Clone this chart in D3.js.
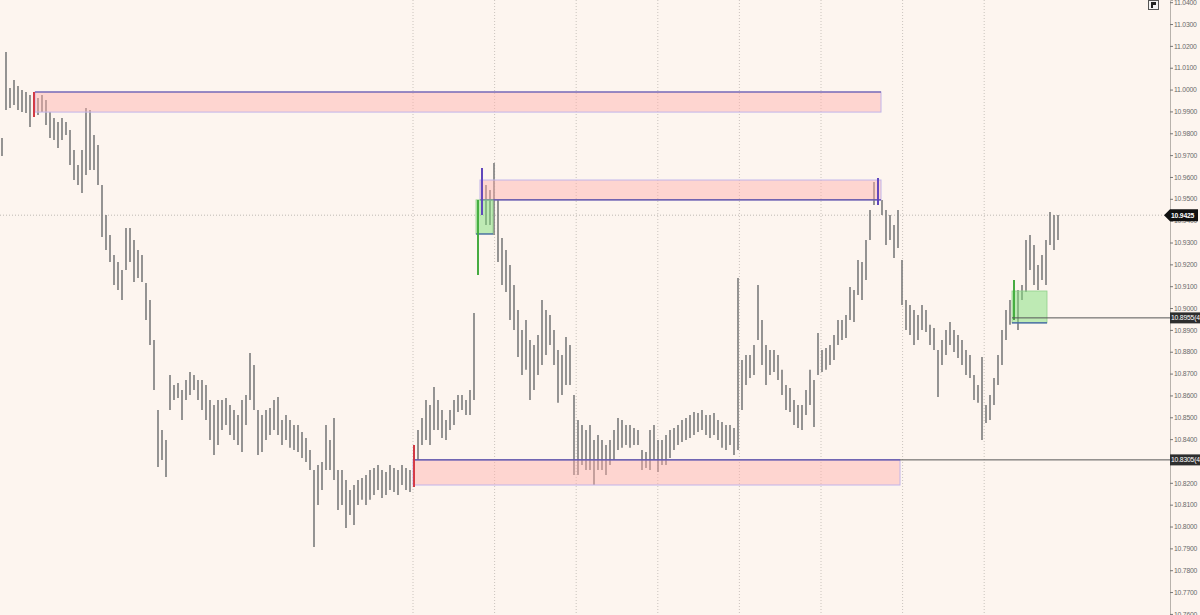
<!DOCTYPE html>
<html>
<head>
<meta charset="utf-8">
<script src="https://cdn.jsdelivr.net/npm/d3@7/dist/d3.min.js"></script>
<style>
body { margin: 0; background: #fdf5ef; }
svg { display: block; font-family: "Liberation Sans", Arial, sans-serif; }
</style>
</head>
<body>
<svg width="1200" height="615"></svg>
<script>
// bar highs / lows, one bar per slot
const highs = [
  10.9778, 11.0172, 11.0007, 11.0044, 11.0016, 10.9998, 10.9989, 10.9975, 10.9989, 10.9961,
  10.9975, 10.9952, 10.9897, 10.9870, 10.9852, 10.9870, 10.9852, 10.9815, 10.9723, 10.9655,
  10.9723, 10.9916, 10.9907, 10.9792, 10.9746, 10.9563, 10.9426, 10.9334, 10.9243, 10.9211,
  10.9174, 10.9366, 10.9366, 10.9311, 10.9266, 10.9243, 10.9115, 10.9037, 10.8854, 10.8533,
  10.8442, 10.8396, 10.8694, 10.8648, 10.8657, 10.8625, 10.8671, 10.8707, 10.8694, 10.8671,
  10.8671, 10.8648, 10.8579, 10.8556, 10.8579, 10.8579, 10.8588, 10.8556, 10.8533, 10.8511,
  10.8579, 10.8602, 10.8794, 10.8739, 10.8533, 10.8511, 10.8533, 10.8543, 10.8579, 10.8593,
  10.8488, 10.8511, 10.8488, 10.8465, 10.8465, 10.8433, 10.8405, 10.8350, 10.8259, 10.8282,
  10.8295, 10.8465, 10.8396, 10.8497, 10.8259, 10.8259, 10.8213, 10.8167, 10.8190, 10.8213,
  10.8222, 10.8236, 10.8259, 10.8268, 10.8282, 10.8259, 10.8250, 10.8282, 10.8268, 10.8259,
  10.8282, 10.8268, 10.8259, 10.8373, 10.8442, 10.8497, 10.8579, 10.8556, 10.8639, 10.8579,
  10.8533, 10.8488, 10.8533, 10.8579, 10.8602, 10.8602, 10.8579, 10.8625, 10.8977, 10.9495,
  10.9641, 10.9563, 10.9540, 10.9664, 10.9495, 10.9321, 10.9266, 10.9197, 10.9106, 10.8991,
  10.8900, 10.8945, 10.8854, 10.8831, 10.8877, 10.9037, 10.8991, 10.8968, 10.8900, 10.8808,
  10.8785, 10.8868, 10.8831, 10.8602, 10.8488, 10.8465, 10.8442, 10.8465, 10.8396, 10.8419,
  10.8396, 10.8373, 10.8396, 10.8442, 10.8497, 10.8488, 10.8465, 10.8465, 10.8451, 10.8442,
  10.8350, 10.8341, 10.8442, 10.8465, 10.8396, 10.8396, 10.8419, 10.8442, 10.8451, 10.8465,
  10.8488, 10.8497, 10.8511, 10.8524, 10.8520, 10.8533, 10.8511, 10.8511, 10.8520, 10.8488,
  10.8478, 10.8465, 10.8465, 10.8451, 10.9138, 10.8762, 10.8785, 10.8785, 10.8831, 10.9106,
  10.8945, 10.8831, 10.8808, 10.8808, 10.8785, 10.8717, 10.8648, 10.8634, 10.8579, 10.8556,
  10.8556, 10.8625, 10.8717, 10.8671, 10.8886, 10.8808, 10.8817, 10.8831, 10.8877, 10.8945,
  10.8945, 10.8968, 10.9096, 10.9083, 10.9220, 10.9211, 10.9311, 10.9449, 10.9577, 10.9595,
  10.9495, 10.9449, 10.9426, 10.9380, 10.9449, 10.9220, 10.9037, 10.9014, 10.8991, 10.8968,
  10.9014, 10.8991, 10.8923, 10.8909, 10.8808, 10.8854, 10.8900, 10.8936, 10.8900, 10.8877,
  10.8854, 10.8808, 10.8785, 10.8694, 10.8648, 10.8776, 10.8556, 10.8602, 10.8680, 10.8785,
  10.8900, 10.8991, 10.9037, 10.9128, 10.9083, 10.9106, 10.9311, 10.9334, 10.9289, 10.9197,
  10.9243, 10.9311, 10.9440, 10.9426, 10.9426
];
const lows = [
  10.9696, 10.9907, 10.9916, 10.9929, 10.9907, 10.9897, 10.9893, 10.9829, 10.9874, 10.9884,
  10.9897, 10.9838, 10.9778, 10.9769, 10.9733, 10.9769, 10.9792, 10.9655, 10.9586, 10.9563,
  10.9527, 10.9609, 10.9632, 10.9632, 10.9563, 10.9325, 10.9266, 10.9211, 10.9106, 10.9083,
  10.9037, 10.9174, 10.9211, 10.9119, 10.9138, 10.9119, 10.8945, 10.8831, 10.8625, 10.8273,
  10.8305, 10.8227, 10.8533, 10.8579, 10.8588, 10.8488, 10.8579, 10.8602, 10.8625, 10.8579,
  10.8533, 10.8488, 10.8396, 10.8327, 10.8373, 10.8442, 10.8465, 10.8419, 10.8396, 10.8373,
  10.8341, 10.8465, 10.8579, 10.8533, 10.8327, 10.8341, 10.8396, 10.8419, 10.8442, 10.8419,
  10.8373, 10.8396, 10.8360, 10.8350, 10.8341, 10.8314, 10.8295, 10.8259, 10.7906, 10.8099,
  10.8167, 10.8259, 10.8259, 10.8213, 10.8076, 10.8099, 10.7993, 10.8053, 10.8007, 10.8099,
  10.8122, 10.8099, 10.8122, 10.8144, 10.8167, 10.8131, 10.8144, 10.8167, 10.8158, 10.8144,
  10.8190, 10.8167, 10.8158, 10.8181, 10.8305, 10.8373, 10.8396, 10.8373, 10.8442, 10.8442,
  10.8405, 10.8396, 10.8442, 10.8465, 10.8524, 10.8533, 10.8511, 10.8511, 10.8579, 10.9151,
  10.9426, 10.9380, 10.9380, 10.9334, 10.9211, 10.9106, 10.9074, 10.8945, 10.8900, 10.8776,
  10.8694, 10.8717, 10.8579, 10.8625, 10.8694, 10.8739, 10.8785, 10.8831, 10.8739, 10.8566,
  10.8602, 10.8648, 10.8648, 10.8236, 10.8236, 10.8282, 10.8259, 10.8259, 10.8190, 10.8259,
  10.8259, 10.8236, 10.8282, 10.8305, 10.8350, 10.8360, 10.8373, 10.8360, 10.8373, 10.8373,
  10.8259, 10.8268, 10.8259, 10.8305, 10.8250, 10.8282, 10.8282, 10.8314, 10.8350, 10.8373,
  10.8387, 10.8396, 10.8405, 10.8419, 10.8433, 10.8442, 10.8419, 10.8405, 10.8419, 10.8396,
  10.8360, 10.8350, 10.8373, 10.8327, 10.8350, 10.8533, 10.8648, 10.8680, 10.8694, 10.8854,
  10.8739, 10.8648, 10.8694, 10.8707, 10.8671, 10.8602, 10.8533, 10.8524, 10.8465, 10.8451,
  10.8442, 10.8511, 10.8556, 10.8456, 10.8694, 10.8707, 10.8717, 10.8739, 10.8762, 10.8831,
  10.8854, 10.8863, 10.8945, 10.8936, 10.9060, 10.9037, 10.9128, 10.9311, 10.9472, 10.9472,
  10.9426, 10.9289, 10.9311, 10.9229, 10.9275, 10.9014, 10.8900, 10.8877, 10.8831, 10.8854,
  10.8900, 10.8890, 10.8831, 10.8808, 10.8593, 10.8739, 10.8785, 10.8831, 10.8799, 10.8771,
  10.8739, 10.8694, 10.8680, 10.8579, 10.8566, 10.8396, 10.8474, 10.8488, 10.8556, 10.8648,
  10.8739, 10.8854, 10.8923, 10.8945, 10.8900, 10.9037, 10.9074, 10.9174, 10.9106, 10.9083,
  10.9128, 10.9106, 10.9289, 10.9266, 10.9311
];

// price axis labels
const priceTicks = [10.76, 10.77, 10.78, 10.79, 10.80, 10.81, 10.82, 10.83, 10.84, 10.85,
  10.86, 10.87, 10.88, 10.89, 10.90, 10.91, 10.92, 10.93, 10.94, 10.95, 10.96, 10.97,
  10.98, 10.99, 11.00, 11.01, 11.02, 11.03, 11.04];

// session separators (bar index)
const sessionStarts = [102.75, 123.15, 143.55, 163.95, 184.35, 204.75, 225.15, 245.55];

// supply zones: from/to bar index, price band, which edge is the level
const supplyZones = [
  { from: 8.25, to: 219.75, top: 10.9989, bottom: 10.9897, edge: "top" },
  { from: 119.5, to: 219.75, top: 10.9586, bottom: 10.9495, edge: "bottom" },
  { from: 102.75, to: 224.5, top: 10.8305, bottom: 10.8190, edge: "top" }
];
const demandZones = [
  { from: 118.5, to: 122.75, top: 10.9495, bottom: 10.9339 },
  { from: 252.5, to: 261.25, top: 10.9078, bottom: 10.8932 }
];
// bars painted by the zone study
const markedBars = [
  { i: 8, kind: "sell" }, { i: 103, kind: "sell" },
  { i: 120, kind: "pivot" }, { i: 219, kind: "pivot" },
  { i: 119, kind: "buy" }, { i: 253, kind: "buy" }
];
const lastPrice = 10.9425;
const levels = [
  { price: 10.8955, from: 252.5, label: "10.8955(4" },
  { price: 10.8305, from: 224.5, label: "10.8305(4" }
];

const svg = d3.select("svg");
const W = 1200, H = 615, axisX = 1170;

const x = d3.scaleLinear().domain([0, highs.length - 1]).range([2, 1058]);
const y = d3.scaleLinear().domain([10.7595, 11.041]).range([H, 0]);

svg.append("rect").attr("width", W).attr("height", H).attr("fill", "#fdf5ef");

// grid
svg.append("g").selectAll("line")
  .data(sessionStarts)
  .join("line")
  .attr("x1", d => x(d)).attr("x2", d => x(d))
  .attr("y1", 0).attr("y2", H)
  .attr("stroke", "#bdb6b0").attr("stroke-width", 0.8)
  .attr("stroke-dasharray", "1,2");

svg.append("line")
  .attr("x1", 0).attr("x2", axisX)
  .attr("y1", y(lastPrice)).attr("y2", y(lastPrice))
  .attr("stroke", "#b0aaa4").attr("stroke-width", 0.8)
  .attr("stroke-dasharray", "1,2");

// price bars
svg.append("g").selectAll("line")
  .data(highs)
  .join("line")
  .attr("x1", (d, i) => x(i)).attr("x2", (d, i) => x(i))
  .attr("y1", d => y(d)).attr("y2", (d, i) => y(lows[i]))
  .attr("stroke", "#828282").attr("stroke-width", 1.7);

// zones
const zg = svg.append("g");
zg.selectAll("rect.sz")
  .data(supplyZones)
  .join("rect")
  .attr("class", "sz")
  .attr("x", d => x(d.from)).attr("width", d => x(d.to) - x(d.from))
  .attr("y", d => y(d.top)).attr("height", d => y(d.bottom) - y(d.top))
  .attr("fill", "#ffb0ab").attr("fill-opacity", 0.45)
  .attr("stroke", "#c2b4ea").attr("stroke-width", 1);
zg.selectAll("line.sz")
  .data(supplyZones)
  .join("line")
  .attr("class", "sz")
  .attr("x1", d => x(d.from)).attr("x2", d => x(d.to))
  .attr("y1", d => y(d[d.edge])).attr("y2", d => y(d[d.edge]))
  .attr("stroke", "#4f45a0").attr("stroke-width", 1.2);

zg.selectAll("rect.dz")
  .data(demandZones)
  .join("rect")
  .attr("class", "dz")
  .attr("x", d => x(d.from)).attr("width", d => x(d.to) - x(d.from))
  .attr("y", d => y(d.top)).attr("height", d => y(d.bottom) - y(d.top))
  .attr("fill", "#7fe07a").attr("fill-opacity", 0.5)
  .attr("stroke", "#8fd08a").attr("stroke-width", 0.8);
zg.selectAll("line.dz")
  .data(demandZones)
  .join("line")
  .attr("class", "dz")
  .attr("x1", d => x(d.from)).attr("x2", d => x(d.to))
  .attr("y1", d => y(d.bottom)).attr("y2", d => y(d.bottom))
  .attr("stroke", "#3b5aa8").attr("stroke-width", 1.2);

const markColor = { sell: "#d8303c", pivot: "#5a3fc0", buy: "#3fae3a" };
svg.append("g").selectAll("line")
  .data(markedBars)
  .join("line")
  .attr("x1", d => x(d.i)).attr("x2", d => x(d.i))
  .attr("y1", d => y(highs[d.i])).attr("y2", d => y(lows[d.i]))
  .attr("stroke", d => markColor[d.kind]).attr("stroke-width", 1.8);

// level lines running to the axis
svg.append("g").selectAll("line")
  .data(levels)
  .join("line")
  .attr("x1", d => x(d.from)).attr("x2", axisX)
  .attr("y1", d => y(d.price)).attr("y2", d => y(d.price))
  .attr("stroke", "#555").attr("stroke-width", 1);

// price axis; labels hidden where a price tag sits on top of them
const tagPrices = levels.map(d => d.price).concat([lastPrice]);
const shownTicks = priceTicks.filter(t => tagPrices.every(p => Math.abs(y(t) - y(p)) > 5));
const axis = svg.append("g")
  .attr("transform", `translate(${axisX},0)`)
  .call(d3.axisRight(y).tickValues(shownTicks).tickSize(3).tickPadding(1).tickFormat(d3.format(".4f")));
axis.select(".domain").attr("stroke", "#b8b2ac");
axis.selectAll(".tick line").attr("stroke", "#777");
axis.selectAll(".tick text").attr("fill", "#6a6a6a").attr("font-size", 6.8)
  .attr("letter-spacing", -0.2)
  .attr("font-family", "Liberation Sans, Arial, sans-serif");

// tags
const tg = svg.append("g").attr("font-size", 6.8).attr("letter-spacing", -0.2)
  .attr("font-family", "Liberation Sans, Arial, sans-serif");
tg.selectAll("rect")
  .data(levels)
  .join("rect")
  .attr("x", axisX).attr("width", W - axisX)
  .attr("y", d => y(d.price) - 5.5).attr("height", 11)
  .attr("fill", "#2e2e2e");
tg.selectAll("text.lv")
  .data(levels)
  .join("text")
  .attr("class", "lv")
  .attr("x", axisX + 1).attr("y", d => y(d.price) + 2.5)
  .attr("fill", "#fff")
  .text(d => d.label);

const ly = y(lastPrice);
tg.append("path")
  .attr("d", `M${axisX - 6},${ly} L${axisX},${ly - 6} L${W - 2},${ly - 6} L${W - 2},${ly + 6} L${axisX},${ly + 6} Z`)
  .attr("fill", "#111");
tg.append("text")
  .attr("x", axisX + 1).attr("y", ly + 2.6)
  .attr("fill", "#fff").attr("font-weight", "bold")
  .text(d3.format(".4f")(lastPrice));

// autoscale button, top right
svg.append("rect").attr("x", 1148.5).attr("y", 0.5).attr("width", 10).attr("height", 9)
  .attr("fill", "#f2f2f2").attr("stroke", "#555");
svg.append("path").attr("d", "M1151,8 L1151,2 L1156,2 L1156,5 L1153,5 L1153,8 Z").attr("fill", "#222");
</script>
</body>
</html>
